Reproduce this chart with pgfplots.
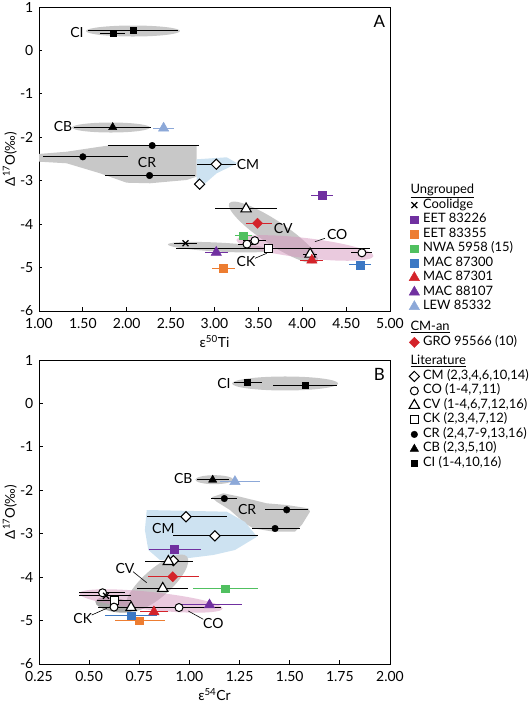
\documentclass[border=0pt]{standalone}
\usepackage{fontspec}
\setmainfont{Lato}
\usepackage{pgfplots}
\pgfplotsset{compat=1.18}
\definecolor{purp}{RGB}{112,48,160}
\definecolor{orng}{RGB}{237,125,49}
\definecolor{grn}{RGB}{80,192,96}
\definecolor{blu}{RGB}{59,120,196}
\definecolor{redd}{RGB}{212,35,42}
\definecolor{lblue}{RGB}{140,168,216}
\definecolor{graysh}{RGB}{200,200,200}
\definecolor{dgraysh}{RGB}{168,168,168}
\definecolor{bluesh}{RGB}{205,226,241}
\definecolor{pinksh}{RGB}{214,150,190}
\newcommand{\lab}{\fontsize{14}{16}\selectfont}
\newcommand{\lf}{\fontsize{13}{14}\selectfont}
\newcommand{\ls}{\rule[-4.2bp]{0pt}{14.5bp}}
\pgfplotsset{
  common/.style={
    scale only axis, width=351bp, height=304bp,
    axis line style={line width=0.9bp},
    tick style={black, line width=0.8bp},
    major tick length=3.5bp,
    tick align=inside, tick pos=left,
    ymin=-6, ymax=1, ytick={-6,-5,...,1},
    ticklabel style={font=\fontsize{14}{16}\selectfont},
    /pgf/number format/assume math mode=true,
    ylabel={Δ\textsuperscript{17}O(‰)},
    ylabel style={font=\fontsize{13.5}{15}\selectfont, at={(axis description cs:-0.083,0.5)}, anchor=center},
    xlabel style={font=\fontsize{14}{15}\selectfont, at={(axis description cs:0.5,-0.121)}, anchor=base, inner sep=0pt},
    yticklabel style={inner sep=0pt, xshift=-5.5bp},
    xticklabel style={inner sep=0pt, yshift=-7.5bp, /pgf/number format/.cd, fixed, fixed zerofill, precision=2},
  },
  eb/.style={error bars/.cd, x dir=both, x explicit, error mark=none, error bar style={line width=1bp, #1}},
  mCoo/.style={only marks, mark=x, mark size=4.2bp, black, mark options={line width=1.3bp}},
  mSq/.style={only marks, mark=square*, mark size=3.8bp, color=#1, mark options={solid}},
  mTri/.style={only marks, mark=triangle*, mark size=6bp, color=#1, mark options={solid}},
  mGRO/.style={only marks, mark=square*, mark size=3.6bp, color=redd, mark options={solid, rotate=45}},
  mCM/.style={only marks, mark=square*, mark size=3.6bp, black, mark options={solid, rotate=45, fill=white, draw=black, line width=1bp}},
  mCO/.style={only marks, mark=*, mark size=4bp, black, mark options={solid, fill=white, draw=black, line width=1bp}},
  mCV/.style={only marks, mark=triangle*, mark size=6bp, black, mark options={solid, fill=white, draw=black, line width=1.1bp}},
  mCK/.style={only marks, mark=square*, mark size=4bp, black, mark options={solid, fill=white, draw=black, line width=1bp}},
  mCR/.style={only marks, mark=*, mark size=3.3bp, black},
  mCB/.style={only marks, mark=triangle*, mark size=4.8bp, black},
  mCI/.style={only marks, mark=square*, mark size=3bp, black},
}
\begin{document}
\begin{tikzpicture}
\path[use as bounding box] (0,0) rectangle (532bp,703bp);
% ---------------- Panel A ----------------
\begin{axis}[common, at={(39bp,392bp)}, anchor=south west,
  xmin=1, xmax=5, xtick={1,1.5,...,5},
  xlabel={ε\textsuperscript{50}Ti},
  legend image code/.code={\draw[mark repeat=2,mark phase=2,#1] plot coordinates {(0bp,0bp)(4.5bp,0bp)(9bp,0bp)};},
  legend cell align=left,
  legend style={at={(1.054,0.421)}, anchor=north west, draw=none, fill=none, inner sep=0pt, row sep=0pt, column sep=3.5bp, font=\lf, nodes={inner sep=0pt, text depth={}, font=\lf}},
]
\addlegendimage{empty legend}\addlegendentry{\lf\hspace*{-12.5bp}\underline{Ungrouped}\ls}
\addlegendimage{mCoo}\addlegendentry{\lf Coolidge\ls}
\addlegendimage{mSq=purp}\addlegendentry{\lf EET 83226\ls}
\addlegendimage{mSq=orng}\addlegendentry{\lf EET 83355\ls}
\addlegendimage{mSq=grn}\addlegendentry{\lf NWA 5958 (15)\ls}
\addlegendimage{mSq=blu}\addlegendentry{\lf MAC 87300\ls}
\addlegendimage{mTri=redd}\addlegendentry{\lf MAC 87301\ls}
\addlegendimage{mTri=purp}\addlegendentry{\lf MAC 88107\ls}
\addlegendimage{mTri=lblue}\addlegendentry{\lf LEW 85332\ls}
\addlegendimage{empty legend}\addlegendentry{\lf\hspace*{-12.5bp}\underline{CM-an}\rule[-4.2bp]{0pt}{21.3bp}}
\addlegendimage{mGRO}\addlegendentry{\lf GRO 95566 (10)\ls}
\addlegendimage{empty legend}\addlegendentry{\lf\hspace*{-12.5bp}\underline{Literature}\rule[-4.2bp]{0pt}{19.5bp}}
\addlegendimage{mCM}\addlegendentry{\lf CM (2,3,4,6,10,14)\ls}
\addlegendimage{mCO}\addlegendentry{\lf CO (1-4,7,11)\ls}
\addlegendimage{mCV}\addlegendentry{\lf CV (1-4,6,7,12,16)\ls}
\addlegendimage{mCK}\addlegendentry{\lf CK (2,3,4,7,12)\ls}
\addlegendimage{mCR}\addlegendentry{\lf CR (2,4,7-9,13,16)\ls}
\addlegendimage{mCB}\addlegendentry{\lf CB (2,3,5,10)\ls}
\addlegendimage{mCI}\addlegendentry{\lf CI (1-4,10,16)\ls}
% shaded regions
\addplot[fill=graysh, draw=none] coordinates {(0.9,-2.40) (1.316,-2.332) (1.695,-2.217) (1.843,-2.178) (2.797,-2.194) (2.797,-2.907) (2.683,-2.983) (2.265,-3.059) (1.999,-3.046) (1.695,-2.829) (1.316,-2.599) (0.9,-2.55)};
\addplot[fill=bluesh, draw=none] coordinates {(2.797,-2.507) (3.139,-2.461) (3.260,-2.599) (3.025,-2.829) (2.872,-3.099) (2.797,-3.175)};
\fill[graysh] (axis cs:2.071,0.447) ellipse [x radius=47bp, y radius=5.5bp];
\fill[graysh] (axis cs:1.820,-1.775) ellipse [x radius=39bp, y radius=5bp];
\fill[graysh] (axis cs:3.672,-4.192) ellipse [x radius=53bp, y radius=12bp, rotate=-33.5];
\fill[graysh] (axis cs:3.06,-4.53) ellipse [x radius=52bp, y radius=4.5bp, rotate=-3];
\fill[pinksh, fill opacity=0.5] (axis cs:4.031,-4.549) ellipse [x radius=69bp, y radius=10bp, rotate=-6.7];
% literature
\addplot[mCI, eb=black] coordinates {(1.84,0.39) +- (0.14,0) (2.07,0.47) +- (0.51,0)};
\addplot[mCB, eb=black] coordinates {(1.84,-1.77) +- (0.44,0)};
\addplot[mCR, eb=black] coordinates {(1.50,-2.45) -= (0.45,0) += (0.51,0) (2.29,-2.19) -= (0.50,0) += (0.53,0) (2.26,-2.88) -= (0.51,0) += (0.52,0)};
\addplot[mCM, eb=black] coordinates {(3.02,-2.62) +- (0.22,0) (2.83,-3.08) +- (0,0)};
\addplot[mCK, eb=black] coordinates {(3.62,-4.56) -= (1.06,0) += (1.15,0)};
\addplot[mCV, eb=black] coordinates {(3.36,-3.65) +- (0.35,0) (4.09,-4.69) +- (0.08,0)};
\addplot[mCO, eb=black] coordinates {(3.46,-4.38) +- (0.13,0) (3.37,-4.46) +- (0.10,0) (4.68,-4.66) +- (0.12,0)};
% ungrouped
\addplot[mCoo, eb=black] coordinates {(2.67,-4.44) +- (0.135,0)};
\addplot[mSq=purp, eb=purp] coordinates {(4.23,-3.34) +- (0.125,0)};
\addplot[mSq=orng, eb=orng] coordinates {(3.10,-5.02) +- (0.13,0)};
\addplot[mSq=grn, eb=grn] coordinates {(3.33,-4.27) +- (0.10,0)};
\addplot[mSq=blu, eb=blu] coordinates {(4.66,-4.94) +- (0.125,0)};
\addplot[mTri=redd, eb=redd] coordinates {(4.11,-4.83) +- (0.13,0)};
\addplot[mTri=purp, eb=purp] coordinates {(3.02,-4.65) +- (0.13,0)};
\addplot[mTri=lblue, eb=lblue] coordinates {(2.42,-1.79) +- (0.12,0)};
\addplot[mGRO, eb=redd] coordinates {(3.49,-3.98) -= (0.13,0) += (0.16,0)};
% labels
\node[font=\lab] at (axis cs:1.433,0.424) {CI};
\node[font=\lab] at (axis cs:1.274,-1.763) {CB};
\node[font=\lab] at (axis cs:2.231,-2.592) {CR};
\node[font=\lab] at (axis cs:3.382,-2.638) {CM};
\node[font=\lab] at (axis cs:3.784,-4.096) {CV};
\node[font=\lab] at (axis cs:4.399,-4.25) {CO};
\node[font=\lab] at (axis cs:3.359,-4.86) {CK};
\draw[line width=0.6bp] (axis cs:4.145,-4.404) -- (axis cs:4.259,-4.326);
\draw[line width=0.6bp] (axis cs:3.462,-4.786) -- (axis cs:3.595,-4.671);
\node[font=\fontsize{17}{20}\selectfont] at (rel axis cs:0.9695,0.951) {A};
\end{axis}
% ---------------- Panel B ----------------
\begin{axis}[common, at={(39bp,39bp)}, anchor=south west,
  xmin=0.25, xmax=2, xtick={0.25,0.5,...,2},
  xlabel={ε\textsuperscript{54}Cr},
]
\addplot[fill=graysh, draw=none] coordinates {(1.111,-2.161) (1.169,-2.069) (1.252,-2.148) (1.385,-2.300) (1.485,-2.339) (1.593,-2.415) (1.601,-2.493) (1.560,-2.799) (1.526,-2.953) (1.418,-2.953) (1.318,-2.875) (1.277,-2.760) (1.202,-2.454) (1.136,-2.263)};
\addplot[fill=bluesh, draw=none] coordinates {(0.787,-2.454) (1.186,-2.493) (1.277,-2.730) (1.337,-3.069) (1.227,-3.375) (1.119,-3.490) (0.986,-3.566) (0.853,-3.605) (0.795,-3.375) (0.778,-2.914)};
\fill[graysh] (axis cs:1.477,0.459) ellipse [x radius=53bp, y radius=7bp];
\fill[graysh] (axis cs:1.124,-1.756) ellipse [x radius=19bp, y radius=4.5bp];
\fill[graysh] (axis cs:0.838,-4.135) ellipse [x radius=40bp, y radius=14bp, rotate=41.5];
\fill[dgraysh] (axis cs:0.629,-4.641) ellipse [x radius=20bp, y radius=7bp, rotate=-10];
\fill[pinksh, fill opacity=0.5] (axis cs:0.808,-4.549) ellipse [x radius=72bp, y radius=9bp, rotate=-6];
% literature
\addplot[mCI, eb=black] coordinates {(1.29,0.48) +- (0.07,0) (1.576,0.41) +- (0.158,0)};
\addplot[mCB, eb=black] coordinates {(1.116,-1.76) +- (0.08,0)};
\addplot[mCR, eb=black] coordinates {(1.174,-2.19) +- (0.065,0) (1.485,-2.45) +- (0.108,0) (1.427,-2.88) -= (0.117,0) += (0.123,0)};
\addplot[mCM, eb=black] coordinates {(0.983,-2.61) -= (0.196,0) += (0.203,0) (1.127,-3.05) -= (0.207,0) += (0.213,0) (0.92,-3.62) +- (0,0)};
\addplot[mCV, eb=black] coordinates {(0.895,-3.64) -= (0.115,0) += (0.125,0) (0.867,-4.26) -= (0.13,0) += (0.127,0) (0.709,-4.70) +- (0.1,0)};
\addplot[mCK, eb=black] coordinates {(0.624,-4.54) +- (0.085,0)};
\addplot[mCO, eb=black] coordinates {(0.948,-4.70) -= (0.188,0) += (0.21,0) (0.567,-4.36) -= (0.117,0) += (0.113,0) (0.624,-4.69) -= (0.08,0) += (0.15,0)};
% ungrouped
\addplot[mCoo, eb=black] coordinates {(0.584,-4.43) -= (0.134,0) += (0.126,0)};
\addplot[mSq=purp, eb=purp] coordinates {(0.923,-3.36) -= (0.123,0) += (0.137,0)};
\addplot[mSq=orng, eb=orng] coordinates {(0.75,-5.00) -= (0.12,0) += (0.13,0)};
\addplot[mSq=grn, eb=grn] coordinates {(1.177,-4.27) -= (0.157,0) += (0.163,0)};
\addplot[mSq=blu, eb=blu] coordinates {(0.709,-4.89) +- (0.13,0)};
\addplot[mTri=redd, eb=redd] coordinates {(0.823,-4.80) +- (0.07,0)};
\addplot[mTri=purp, eb=purp] coordinates {(1.10,-4.64) -= (0.15,0) += (0.16,0)};
\addplot[mTri=lblue, eb=lblue] coordinates {(1.227,-1.80) -= (0.077,0) += (0.123,0)};
\addplot[mGRO, eb=redd] coordinates {(0.917,-3.99) -= (0.122,0) += (0.133,0)};
% labels
\node[font=\lab] at (axis cs:1.172,0.463) {CI};
\node[font=\lab] at (axis cs:0.969,-1.74) {CB};
\node[font=\lab] at (axis cs:1.288,-2.454) {CR};
\node[font=\lab] at (axis cs:0.87,-2.875) {CM};
\node[font=\lab] at (axis cs:0.679,-3.796) {CV};
\node[font=\lab] at (axis cs:0.468,-4.948) {CK};
\node[font=\lab] at (axis cs:1.119,-5.063) {CO};
\draw[line width=0.6bp] (axis cs:0.719,-3.875) -- (axis cs:0.787,-4.128);
\draw[line width=0.6bp] (axis cs:0.513,-4.872) -- (axis cs:0.588,-4.717);
\draw[line width=0.6bp] (axis cs:0.994,-4.779) -- (axis cs:1.069,-4.970);
\node[font=\fontsize{17}{20}\selectfont] at (rel axis cs:0.9695,0.951) {B};
\end{axis}
\end{tikzpicture}
\end{document}
